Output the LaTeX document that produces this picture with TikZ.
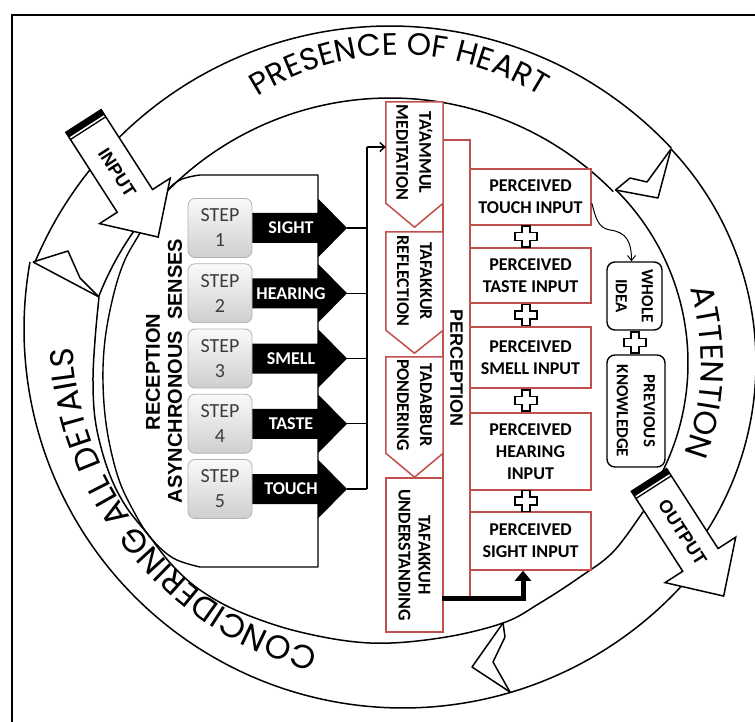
\documentclass[tikz,border=0pt]{standalone}
\usepackage{fontspec}
\setmainfont{Carlito}
\newfontfamily\ringfont{Poppins}
\newfontfamily\lsans{Liberation Sans}
\usetikzlibrary{arrows.meta,decorations.text,calc}
\definecolor{redc}{RGB}{192,80,77}
\definecolor{txtgray}{RGB}{60,60,60}
\tikzset{
  ringline/.style={line width=1.5pt, line join=round},
  redline/.style={draw=redc, line width=1.5pt, fill=white},
  vtxt/.style={rotate=-90, align=center, inner sep=0pt, font=\bfseries\fontsize{18}{23}\selectfont},
  pbox/.style={draw=redc, line width=1.5pt, fill=white, minimum width=121pt, inner sep=0pt, align=center, font=\bfseries\fontsize{18}{22}\selectfont},
  stepbtn/.style={draw=gray!60, line width=0.8pt, rounded corners=7pt, top color=gray!4, bottom color=gray!38, minimum width=64pt, minimum height=59pt, inner sep=0pt, align=center, text=txtgray, font=\fontsize{20}{25}\selectfont},
  sensetxt/.style={text=white, font=\bfseries\fontsize{18}{18}\selectfont, inner sep=0pt},
  ioarrow/.style={draw, line width=1.5pt, fill=white, line join=miter},
  iotxt/.style={rotate=-57.25, font=\lsans\bfseries\fontsize{18}{18}\selectfont, inner sep=0pt},
  ideabox/.style={draw, line width=1.4pt, rounded corners=8pt, fill=white, inner sep=0pt},
  pics/pluscross/.style={code={\draw[fill=white, line width=1.1pt] (-4,-10.5) -- (4,-10.5) -- (4,-4) -- (11,-4) -- (11,4) -- (4,4) -- (4,10.5) -- (-4,10.5) -- (-4,4) -- (-11,4) -- (-11,-4) -- (-4,-4) -- cycle;}}
}
\begin{document}
\begin{tikzpicture}[x=1pt,y=-1pt]
\useasboundingbox (0,0) rectangle (755,722);
\clip (0,0) rectangle (755,722);
\fill[white] (0,0) rectangle (755,722);
% frame
\draw[line width=2pt] (12,740) -- (12,15) -- (770,15);

% ---------------- ring ----------------
\draw[ringline] plot[domain=202.8:317, samples=120] ({390+385*cos(\x)},{411+385*sin(\x)});
\draw[ringline] plot[domain=201.5:315.5, samples=120] ({390+313*cos(\x)},{411+313*sin(\x)});
\draw[ringline] plot[domain=316.7:394, samples=100] ({444+312*cos(\x)},{363+312*sin(\x)});
\draw[ringline] plot[domain=314.7:389, samples=100] ({444+244*cos(\x)},{363+244*sin(\x)});
\draw[ringline] plot[domain=40:190.2, samples=150] ({403+379*cos(\x)},{329+379*sin(\x)});
\draw[ringline] plot[smooth, tension=0.6] coordinates {(652,498) (643,512) (613,552) (580,577) (540,603) (503,623) (440,638) (370,643) (300,632) (240,612) (200,590) (172,565) (150,537) (125,505) (108,470) (96,425) (93,383) (95,340) (99,297)};
% chevrons
\coordinate (trI) at (615.5,190);
\coordinate (trO) at (671,149);
\draw[ringline] (trI) -- (658,198) -- (trO);
\draw[ringline] (trI) -- (630,178) -- (647,182) -- (trO);
\coordinate (bI) at (503,623);
\coordinate (bO) at (510,692);
\draw[ringline] (bI) -- (472,667) -- (bO);
\draw[ringline] (bI) -- (505,637) -- (493,662) -- (bO);
\coordinate (lO) at (33,262);
\coordinate (lI) at (99,297);
\draw[ringline] (lO) -- (lI);
\draw[ringline] (lO) -- (68,251) -- (80,278) -- (lI);

% ring texts
\path[decorate, decoration={text along path, text align=center, text={|\ringfont\fontsize{31}{31}\selectfont|PRESENCE OF HEART}}] plot[domain=210:330, samples=150] ({399+262*cos(\x)},{317+262*sin(\x)});
\path[decorate, decoration={text along path, text align=center, text={|\ringfont\fontsize{32}{32}\selectfont|ATTENTION}}] plot[domain=-58:62, samples=150] ({444+257*cos(\x)},{363+257*sin(\x)});
\path[decorate, decoration={text along path, text align=center, text={|\ringfont\fontsize{33}{33}\selectfont|CONCIDERING ALL DETAILS}}] plot[domain=80.2:201.4, samples=150] ({403+331*cos(\x)},{329+331*sin(\x)});

% ---------------- reception container ----------------
\draw[line width=1.4pt, line join=round] (318,567) -- (200,567) -- plot[smooth, tension=0.6] coordinates {(200,567) (173,558) (150,537) (133,510) (118,477) (107,430) (103,383) (105,340) (113,297) (124,262) (140,233) (160,200) (178,181) (200,175)} -- (318,175) -- cycle;

\node[rotate=90, inner sep=0pt, font=\lsans\bfseries\fontsize{20}{20}\selectfont] (rec) at (153,372) {RECEPTION};
\node[rotate=90, inner sep=0pt, font=\lsans\bfseries\fontsize{20}{20}\selectfont] (asy) at (175,371) {ASYNCHRONOUS\hspace{0.55em}SENSES};

% bus
\coordinate (busT) at (367,147);
\coordinate (busB) at (367,489);
\draw[line width=1.4pt] (busT) -- (busB);

\foreach \i/\yc/\lab in {1/228/SIGHT, 2/293.25/HEARING, 3/358.5/SMELL, 4/423.75/TASTE, 5/489/TOUCH} {
  \fill (248,\yc-15) -- (318,\yc-15) -- (318,\yc-29.5) -- (347,\yc) -- (318,\yc+29.5) -- (318,\yc+15) -- (248,\yc+15) -- cycle;
  \coordinate (tip\i) at (347,\yc);
  \draw[line width=1.4pt] (tip\i) -- (tip\i -| busT);
  \node[stepbtn] (step\i) at (220,\yc) {STEP\\\i};
  \node[sensetxt] (lab\i) at (291,\yc) {\lab};
}

% ---------------- perception column & boxes ----------------
\node[draw=redc, line width=1.5pt, fill=white, minimum width=27pt, minimum height=458pt, inner sep=0pt] (percol) at (456.5,369) {};
\node[rotate=-90, inner sep=0pt, font=\lsans\bfseries\fontsize{18}{18}\selectfont] (perct) at (456.5,368) {PERCEPTION};

\node[minimum width=57pt, minimum height=101pt, inner sep=0pt] (m1) at (414.5,152.5) {};
\draw[redline] (m1.north west) -- (m1.north east) -- (m1.south east) -- ($(m1.south)+(0,24)$) -- (m1.south west) -- cycle;
\node[vtxt] (t1) at (m1) {TA‘AMMUL\\MEDITATION};

\node[minimum width=57pt, minimum height=98pt, inner sep=0pt] (m2) at (414.5,281) {};
\draw[redline] (m2.north west) -- (m2.north east) -- (m2.south east) -- ($(m2.south)+(0,23)$) -- (m2.south west) -- cycle;
\node[vtxt] (t2) at (m2) {TAFAKKUR\\REFLECTION};

\node[minimum width=57pt, minimum height=96pt, inner sep=0pt] (m3) at (414.5,405) {};
\draw[redline] (m3.north west) -- (m3.north east) -- (m3.south east) -- ($(m3.south)+(0,24)$) -- (m3.south west) -- cycle;
\node[vtxt] (t3) at (m3) {TADABBUR\\PONDERING};

\node[redline, minimum width=57pt, minimum height=154pt, inner sep=0pt] (m4) at (414.5,555) {};
\node[vtxt, font=\bfseries\fontsize{18}{20}\selectfont] (t4) at (m4) {TAFAKKUH\\UNDERSTANDING};

\draw[line width=1.4pt, -{Straight Barb[length=5pt,width=9pt]}] (busT) -- (busT -| m1.west);

\node[pbox, minimum height=56pt] (ptouch) at (530.5,197) {PERCEIVED\\TOUCH INPUT};
\node[pbox, minimum height=55pt] (ptaste) at (530.5,275.5) {PERCEIVED\\TASTE INPUT};
\node[pbox, minimum height=61pt] (psmell) at (530.5,357.5) {PERCEIVED\\SMELL INPUT};
\node[pbox, minimum height=77pt] (phear) at (530.5,451.5) {PERCEIVED\\HEARING\\INPUT};
\node[pbox, minimum height=58pt] (psight) at (530.5,541) {PERCEIVED\\SIGHT INPUT};

\pic (pl1) at (526,236.5) {pluscross};
\pic (pl2) at (526,315) {pluscross};
\pic (pl3) at (526,400.5) {pluscross};
\pic (pl4) at (526,501) {pluscross};

% whole idea / previous knowledge
\node[ideabox, minimum width=55pt, minimum height=68pt] (whole) at (634.5,296) {};
\node[vtxt, font=\bfseries\fontsize{17}{26}\selectfont] (wholet) at (whole) {WHOLE\\IDEA};
\node[ideabox, minimum width=58pt, minimum height=112pt] (prev) at (636,411) {};
\node[vtxt, font=\bfseries\fontsize{17}{27}\selectfont] (prevt) at (prev) {PREVIOUS\\KNOWLEDGE};
\pic (pl5) at (635,342.5) {pluscross};

\coordinate (bend) at (610,230);
\draw[line width=1pt, -{Straight Barb[length=5pt,width=8pt]}] ([yshift=-6pt]ptouch.east) .. controls +(4,15) and +(-12,-2) .. (bend) .. controls +(16,2) and +(0,-20) .. ([xshift=-3pt]whole.north);

% thick L arrow
\draw[line width=5pt, -{Triangle[length=10pt,width=16pt]}] (percol.south west) -| ([xshift=-7.5pt]psight.south);

% ---------------- INPUT / OUTPUT arrows ----------------
\begin{scope}[shift={(83.5,121)}, rotate=-57.25]
  \draw[ioarrow] (0,-21) -- (95,-21) -- (95,-42) -- (138,0) -- (95,42) -- (95,21) -- (0,21) -- cycle;
  \fill (0,-21) rectangle (6,21);
  \draw[line width=1.3pt] (8.5,-21) -- (8.5,21);
  \node[iotxt] (inlab) at (62,0) {INPUT};
\end{scope}
\begin{scope}[shift={(649,480)}, rotate=-57.25]
  \draw[ioarrow] (0,-21) -- (95,-21) -- (95,-42) -- (138,0) -- (95,42) -- (95,21) -- (0,21) -- cycle;
  \fill (0,-21) rectangle (6,21);
  \draw[line width=1.3pt] (8.5,-21) -- (8.5,21);
  \node[iotxt] (outlab) at (62,0) {OUTPUT};
\end{scope}
\end{tikzpicture}
\end{document}
